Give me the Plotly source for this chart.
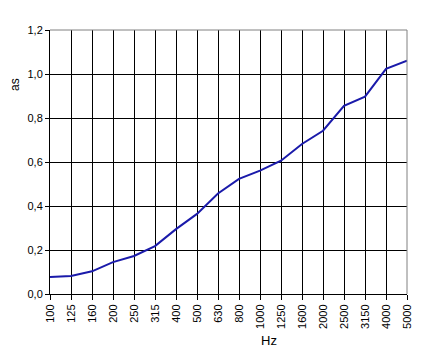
import plotly.graph_objects as go

freqs = ["100", "125", "160", "200", "250", "315", "400", "500", "630", "800",
         "1000", "1250", "1600", "2000", "2500", "3150", "4000", "5000"]
alpha_s = [0.077, 0.082, 0.103, 0.145, 0.173, 0.218, 0.295, 0.364, 0.457, 0.523,
           0.561, 0.606, 0.682, 0.742, 0.855, 0.897, 1.023, 1.06]
y_ticks = [0.0, 0.2, 0.4, 0.6, 0.8, 1.0, 1.2]

fig = go.Figure()
fig.add_trace(go.Scatter(x=freqs, y=alpha_s, mode="lines",
                         line=dict(color="#1a1aaa", width=2)))

# page body has an 8px default margin, so compensate on the left/top
fig.update_layout(
    width=433, height=356,
    margin=dict(l=42, r=26, t=22, b=62),
    paper_bgcolor="white", plot_bgcolor="white",
    separators=",.",
    showlegend=False,
    font=dict(family="Liberation Sans, Arial, sans-serif", size=11, color="black"),
    xaxis=dict(type="category", range=[0, len(freqs) - 1],
               showgrid=True, gridcolor="black", gridwidth=1,
               showline=True, linecolor="black", linewidth=1,
               ticks="outside", ticklen=5, tickcolor="black",
               tickangle=-90, tickfont=dict(size=11)),
    yaxis=dict(range=[0, 1.2], tickvals=y_ticks, tickformat=".1f",
               showgrid=True, gridcolor="black", gridwidth=1,
               showline=True, linecolor="black", linewidth=1,
               ticks="outside", ticklen=4, tickcolor="black",
               zeroline=False, tickfont=dict(size=11)),
)
fig.update_layout(margin=dict(l=42, r=34, t=22, b=70))

fig.add_shape(type="line", xref="paper", yref="paper", x0=0, x1=1, y0=1, y1=1,
              line=dict(color="#808080", width=1), layer="above")
fig.add_shape(type="line", xref="paper", yref="paper", x0=1, x1=1, y0=0, y1=1,
              line=dict(color="#808080", width=1), layer="above")

fig.add_annotation(text="Hz", xref="paper", yref="paper", x=(269 - 50) / 357, y=-46 / 264,
                   showarrow=False, font=dict(size=13), xanchor="center", yanchor="middle")
fig.add_annotation(text="as", xref="paper", yref="paper", x=-35 / 357, y=(294 - 85) / 264,
                   showarrow=False, textangle=-90, font=dict(size=12),
                   xanchor="center", yanchor="middle")

fig.write_html("out.html")
